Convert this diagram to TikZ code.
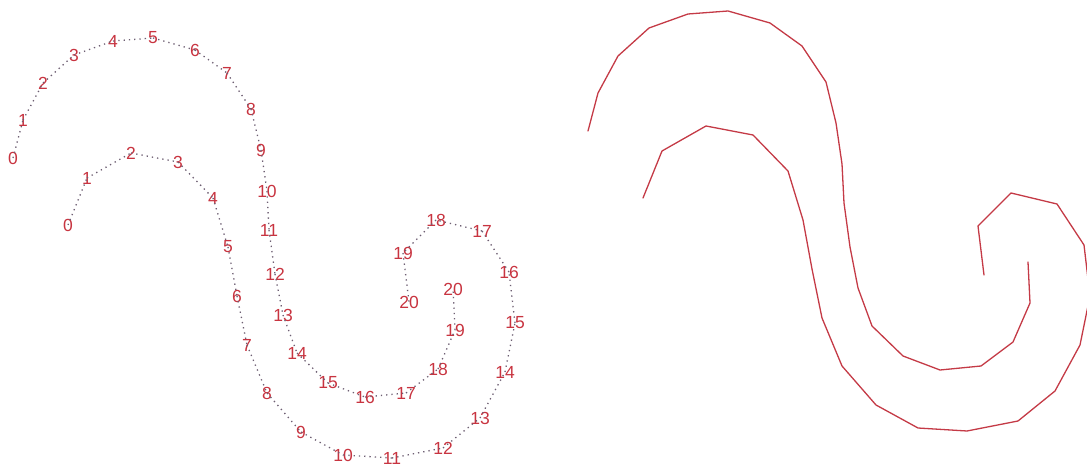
\documentclass[tikz,border=0pt]{standalone}
\usepackage{fontspec}
\setmainfont{Liberation Sans}
\definecolor{labred}{RGB}{200,52,64}
\definecolor{linered}{RGB}{196,58,70}
\definecolor{dotc}{RGB}{110,95,115}
\begin{document}
\begin{tikzpicture}[x=1pt,y=-1pt,
  lbl/.style={text=labred, font=\fontsize{17.5}{17.5}\selectfont, inner sep=0pt},
  dotline/.style={draw=dotc, line width=1.3pt, dash pattern=on 1.3pt off 4pt},
  solidline/.style={draw=linered, line width=1.3pt, line join=round, line cap=round}]
\useasboundingbox (0,0) rectangle (1087,470);
% outer track (big arc)
\foreach \n/\x/\y in {0/13/158,1/23/120,2/43/83,3/74/55,4/113/41,5/153/38,6/195/50,7/227/73,8/251/109,9/261/150,10/267/191,11/269/230,12/275/274,13/283/315,14/297/353,15/328/383,16/365/397,17/406/393,18/438/369,19/455/330,20/453/289}{
  \node[lbl] (o\n) at (\x,\y) {\n};
  \coordinate (ro\n) at (\x+575,\y-27);
}
% inner track (small arc)
\foreach \n/\x/\y in {0/68/225,1/87/178,2/131/153,3/178/162,4/213/198,5/228/247,6/237/296,7/247/345,8/267/393,9/301/432,10/343/455,11/392/458,12/443/448,13/480/418,14/505/372,15/515/323,16/509/272,17/482/231,18/436/220,19/403/253,20/409/302}{
  \node[lbl] (i\n) at (\x,\y) {\n};
  \coordinate (ri\n) at (\x+575,\y-27);
}
% dotted connectors
\foreach \a [count=\b from 1] in {0,...,19}{
  \draw[dotline] (o\a.center) -- (o\b.center);
  \draw[dotline] (i\a.center) -- (i\b.center);
}
% solid polylines
\draw[solidline] (ro0) \foreach \k in {1,...,20}{ -- (ro\k)};
\draw[solidline] (ri0) \foreach \k in {1,...,20}{ -- (ri\k)};
\end{tikzpicture}
\end{document}
